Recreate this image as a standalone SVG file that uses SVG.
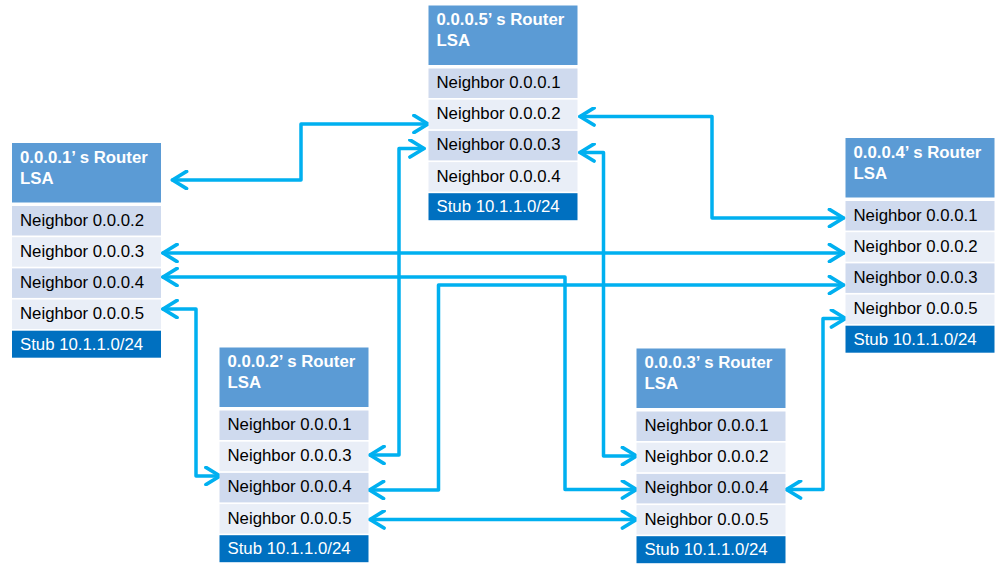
<svg xmlns="http://www.w3.org/2000/svg" width="998" height="565" viewBox="0 0 998 565">
<defs>
<style>
.hd{fill:#5B9BD5}
.r1{fill:#CFDAEE}
.r2{fill:#E9EEF7}
.st{fill:#0070C0}
.ht{font-family:"Liberation Sans",Arial,sans-serif;font-weight:bold;font-size:16.8px;fill:#FFFFFF}
.rt{font-family:"Liberation Sans",Arial,sans-serif;font-size:16.8px;fill:#000000}
.sw{font-family:"Liberation Sans",Arial,sans-serif;font-size:16.8px;fill:#FFFFFF}
.cn{fill:none;stroke:#00B0F0;stroke-width:3.5;stroke-linejoin:round;stroke-linecap:round;marker-start:url(#ah);marker-end:url(#ah)}
</style>
<marker id="ah" viewBox="0 0 20 20" markerWidth="20" markerHeight="20" refX="17" refY="10" markerUnits="userSpaceOnUse" orient="auto-start-reverse">
<path d="M3,1.5 L17,10 L3,18.5" fill="none" stroke="#00B0F0" stroke-width="3.8" stroke-linecap="round" stroke-linejoin="round"/>
</marker>
</defs>
<rect width="998" height="565" fill="#FFFFFF"/>

<g id="connectors">
<path class="cn" d="M172.5,180 H301 V124 H428"/>
<path class="cn" d="M580,116.5 H712 V218 H843.5"/>
<path class="cn" d="M424,148.5 H399 V455 H370"/>
<path class="cn" d="M580,152.5 H603.5 V456 H636.5"/>
<path class="cn" d="M163,253 H843.5"/>
<path class="cn" d="M163,277 H565 V489.5 H636.5"/>
<path class="cn" d="M843.5,285 H438.5 V490 H369.5"/>
<path class="cn" d="M163,309 H196 V476 H220"/>
<path class="cn" d="M370,519.5 H636.5"/>
<path class="cn" d="M845.5,318.5 H823 V489.5 H786.5"/>
</g>

<g id="lsa-0.0.0.1" transform="translate(12,143)">
<rect class="hd" x="0" y="0" width="149" height="59.5"/>
<text class="ht" x="8" y="19.5">0.0.0.1’ s Router</text>
<text class="ht" x="8" y="40.5">LSA</text>
<rect class="r1" x="0" y="63" width="149" height="29.5"/>
<text class="rt" x="8" y="82.5">Neighbor 0.0.0.2</text>
<rect class="r2" x="0" y="94.2" width="149" height="29.5"/>
<text class="rt" x="8" y="113.7">Neighbor 0.0.0.3</text>
<rect class="r1" x="0" y="125.4" width="149" height="29.5"/>
<text class="rt" x="8" y="144.9">Neighbor 0.0.0.4</text>
<rect class="r2" x="0" y="156.6" width="149" height="29.5"/>
<text class="rt" x="8" y="176.1">Neighbor 0.0.0.5</text>
<rect class="st" x="0" y="187.7" width="149" height="27"/>
<text class="sw" x="8" y="206.5">Stub 10.1.1.0/24</text>
</g>

<g id="lsa-0.0.0.5" transform="translate(428.5,5.5)">
<rect class="hd" x="0" y="0" width="149" height="59.5"/>
<text class="ht" x="8" y="19.5">0.0.0.5’ s Router</text>
<text class="ht" x="8" y="40.5">LSA</text>
<rect class="r1" x="0" y="63" width="149" height="29.5"/>
<text class="rt" x="8" y="82.5">Neighbor 0.0.0.1</text>
<rect class="r2" x="0" y="94.2" width="149" height="29.5"/>
<text class="rt" x="8" y="113.7">Neighbor 0.0.0.2</text>
<rect class="r1" x="0" y="125.4" width="149" height="29.5"/>
<text class="rt" x="8" y="144.9">Neighbor 0.0.0.3</text>
<rect class="r2" x="0" y="156.6" width="149" height="29.5"/>
<text class="rt" x="8" y="176.1">Neighbor 0.0.0.4</text>
<rect class="st" x="0" y="187.7" width="149" height="27"/>
<text class="sw" x="8" y="206.5">Stub 10.1.1.0/24</text>
</g>

<g id="lsa-0.0.0.4" transform="translate(845.5,138)">
<rect class="hd" x="0" y="0" width="149" height="59.5"/>
<text class="ht" x="8" y="19.5">0.0.0.4’ s Router</text>
<text class="ht" x="8" y="40.5">LSA</text>
<rect class="r1" x="0" y="63" width="149" height="29.5"/>
<text class="rt" x="8" y="82.5">Neighbor 0.0.0.1</text>
<rect class="r2" x="0" y="94.2" width="149" height="29.5"/>
<text class="rt" x="8" y="113.7">Neighbor 0.0.0.2</text>
<rect class="r1" x="0" y="125.4" width="149" height="29.5"/>
<text class="rt" x="8" y="144.9">Neighbor 0.0.0.3</text>
<rect class="r2" x="0" y="156.6" width="149" height="29.5"/>
<text class="rt" x="8" y="176.1">Neighbor 0.0.0.5</text>
<rect class="st" x="0" y="187.7" width="149" height="27"/>
<text class="sw" x="8" y="206.5">Stub 10.1.1.0/24</text>
</g>

<g id="lsa-0.0.0.2" transform="translate(219.5,347.5)">
<rect class="hd" x="0" y="0" width="149" height="59.5"/>
<text class="ht" x="8" y="19.5">0.0.0.2’ s Router</text>
<text class="ht" x="8" y="40.5">LSA</text>
<rect class="r1" x="0" y="63" width="149" height="29.5"/>
<text class="rt" x="8" y="82.5">Neighbor 0.0.0.1</text>
<rect class="r2" x="0" y="94.2" width="149" height="29.5"/>
<text class="rt" x="8" y="113.7">Neighbor 0.0.0.3</text>
<rect class="r1" x="0" y="125.4" width="149" height="29.5"/>
<text class="rt" x="8" y="144.9">Neighbor 0.0.0.4</text>
<rect class="r2" x="0" y="156.6" width="149" height="29.5"/>
<text class="rt" x="8" y="176.1">Neighbor 0.0.0.5</text>
<rect class="st" x="0" y="187.7" width="149" height="27"/>
<text class="sw" x="8" y="206.5">Stub 10.1.1.0/24</text>
</g>

<g id="lsa-0.0.0.3" transform="translate(636.5,348.5)">
<rect class="hd" x="0" y="0" width="149" height="59.5"/>
<text class="ht" x="8" y="19.5">0.0.0.3’ s Router</text>
<text class="ht" x="8" y="40.5">LSA</text>
<rect class="r1" x="0" y="63" width="149" height="29.5"/>
<text class="rt" x="8" y="82.5">Neighbor 0.0.0.1</text>
<rect class="r2" x="0" y="94.2" width="149" height="29.5"/>
<text class="rt" x="8" y="113.7">Neighbor 0.0.0.2</text>
<rect class="r1" x="0" y="125.4" width="149" height="29.5"/>
<text class="rt" x="8" y="144.9">Neighbor 0.0.0.4</text>
<rect class="r2" x="0" y="156.6" width="149" height="29.5"/>
<text class="rt" x="8" y="176.1">Neighbor 0.0.0.5</text>
<rect class="st" x="0" y="187.7" width="149" height="27"/>
<text class="sw" x="8" y="206.5">Stub 10.1.1.0/24</text>
</g>
</svg>
